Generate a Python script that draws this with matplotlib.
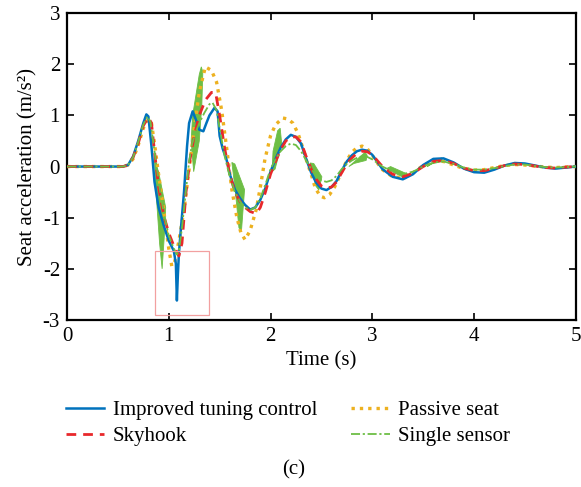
import matplotlib
matplotlib.use("Agg")
import matplotlib.pyplot as plt
from matplotlib.patches import Rectangle

plt.rcParams['font.family'] = ['Liberation Serif', 'DejaVu Serif']
plt.rcParams['axes.unicode_minus'] = False

# Improved tuning control (time, acceleration)
t_imp = [0.0, 0.55, 0.6, 0.65, 0.7, 0.75, 0.78, 0.8, 0.83, 0.86, 0.9, 0.95, 1.0, 1.05,
         1.07, 1.08, 1.09, 1.1, 1.12, 1.15, 1.18, 1.2, 1.235, 1.27, 1.3, 1.34, 1.37, 1.4,
         1.45, 1.48, 1.5, 1.53, 1.57, 1.6, 1.65, 1.7, 1.75, 1.8, 1.85, 1.9, 1.95, 2.0,
         2.05, 2.1, 2.15, 2.2, 2.25, 2.3, 2.35, 2.4, 2.45, 2.5, 2.55, 2.6, 2.65, 2.7,
         2.75, 2.8, 2.85, 2.9, 2.95, 3.0, 3.1, 3.2, 3.3, 3.4, 3.5, 3.6, 3.7, 3.8, 3.9,
         4.0, 4.1, 4.2, 4.3, 4.4, 4.5, 4.6, 4.7, 4.8, 4.9, 5.0]
a_imp = [0.0, 0.0, 0.03, 0.2, 0.5, 0.85, 1.02, 0.98, 0.4, -0.3, -0.8, -1.15, -1.45, -1.65,
         -1.9, -2.62, -2.1, -1.7, -1.2, -0.5, 0.4, 0.85, 1.08, 0.9, 0.72, 0.69, 0.85, 1.0,
         1.15, 1.08, 0.6, 0.35, 0.12, -0.15, -0.45, -0.62, -0.75, -0.84, -0.8, -0.65, -0.42, -0.1,
         0.15, 0.37, 0.53, 0.62, 0.58, 0.45, 0.15, -0.12, -0.32, -0.43, -0.46, -0.4, -0.28, -0.08,
         0.1, 0.22, 0.3, 0.33, 0.31, 0.23, -0.05, -0.2, -0.25, -0.15, 0.03, 0.15, 0.16, 0.08, -0.04,
         -0.11, -0.12, -0.06, 0.02, 0.07, 0.06, 0.02, -0.02, -0.04, -0.02, 0.0]

# Skyhook
t_sky = [0.0, 0.55, 0.6, 0.65, 0.7, 0.75, 0.8, 0.83, 0.86, 0.9, 0.95, 1.0, 1.05, 1.1,
         1.13, 1.17, 1.21, 1.25, 1.3, 1.36, 1.42, 1.46, 1.5, 1.55, 1.6, 1.65, 1.7, 1.75,
         1.8, 1.86, 1.9, 1.95, 2.0, 2.05, 2.1, 2.15, 2.2, 2.25, 2.3, 2.35, 2.4, 2.45, 2.5,
         2.55, 2.6, 2.65, 2.7, 2.75, 2.8, 2.85, 2.9, 2.95, 3.0, 3.1, 3.2, 3.3, 3.4, 3.5,
         3.6, 3.7, 3.8, 3.9, 4.0, 4.1, 4.2, 4.3, 4.4, 4.5, 4.6, 4.7, 4.8, 4.9, 5.0]
a_sky = [0.0, 0.0, 0.03, 0.18, 0.45, 0.8, 0.96, 0.85, 0.3, -0.4, -0.95, -1.3, -1.55, -1.75,
         -1.5, -0.5, 0.15, 0.6, 1.0, 1.3, 1.45, 1.45, 1.0, 0.35, -0.15, -0.5, -0.68, -0.8,
         -0.88, -0.92, -0.8, -0.5, -0.15, 0.1, 0.33, 0.5, 0.58, 0.58, 0.48, 0.2, -0.05, -0.25, -0.38,
         -0.42, -0.4, -0.3, -0.12, 0.05, 0.17, 0.26, 0.3, 0.29, 0.23, 0.0, -0.15, -0.2, -0.13, 0.0,
         0.1, 0.12, 0.06, -0.03, -0.08, -0.08, -0.04, 0.02, 0.05, 0.04, 0.01, -0.02, -0.03, -0.01, 0.0]

# Passive seat
t_pas = [0.0, 0.55, 0.6, 0.65, 0.7, 0.75, 0.8, 0.83, 0.86, 0.9, 0.95, 1.0, 1.03, 1.06,
         1.1, 1.15, 1.2, 1.25, 1.3, 1.36, 1.42, 1.47, 1.52, 1.57, 1.62, 1.67, 1.71, 1.75,
         1.8, 1.86, 1.9, 1.945, 2.0, 2.05, 2.12, 2.17, 2.22, 2.27, 2.32, 2.36, 2.4, 2.44,
         2.49, 2.53, 2.58, 2.63, 2.7, 2.75, 2.8, 2.85, 2.9, 2.95, 3.0, 3.05, 3.1, 3.2, 3.3,
         3.4, 3.5, 3.6, 3.7, 3.8, 3.9, 4.0, 4.1, 4.2, 4.3, 4.4, 4.5, 4.6, 4.7, 4.8, 4.9, 5.0]
a_pas = [0.0, 0.0, 0.03, 0.15, 0.42, 0.75, 0.93, 0.85, 0.45, -0.15, -0.85, -1.6, -1.95, -1.85,
         -1.45, -0.85, -0.05, 0.75, 1.45, 1.95, 1.88, 1.65, 1.1, 0.35, -0.45, -1.0, -1.3, -1.43,
         -1.25, -0.84, -0.4, 0.14, 0.6, 0.82, 0.95, 0.93, 0.85, 0.65, 0.35, 0.08, -0.15, -0.42,
         -0.58, -0.61, -0.55, -0.4, -0.1, 0.12, 0.28, 0.37, 0.4, 0.35, 0.22, 0.07, -0.06, -0.2, -0.22,
         -0.12, 0.02, 0.11, 0.1, 0.03, -0.04, -0.07, -0.06, -0.02, 0.02, 0.04, 0.03, 0.01, -0.01, -0.02, -0.01, 0.0]

# Single sensor (mean trace)
t_sgl = [0.0, 0.55, 0.6, 0.65, 0.7, 0.75, 0.79, 0.82, 0.85, 0.88, 0.92, 0.95, 1.0, 1.05,
         1.08, 1.1, 1.13, 1.17, 1.2, 1.23, 1.27, 1.3, 1.35, 1.4, 1.43, 1.47, 1.5, 1.55, 1.6,
         1.65, 1.7, 1.75, 1.8, 1.85, 1.9, 1.95, 2.0, 2.05, 2.1, 2.15, 2.2, 2.25, 2.3, 2.35,
         2.4, 2.45, 2.5, 2.55, 2.6, 2.65, 2.7, 2.75, 2.8, 2.85, 2.9, 2.95, 3.0, 3.1, 3.2, 3.3,
         3.4, 3.5, 3.6, 3.7, 3.8, 3.9, 4.0, 4.1, 4.2, 4.3, 4.4, 4.5, 4.6, 4.7, 4.8, 4.9, 5.0]
a_sgl = [0.0, 0.0, 0.03, 0.18, 0.48, 0.82, 0.98, 0.88, 0.45, 0.0, -0.55, -0.9, -1.35, -1.6,
         -1.72, -1.65, -1.2, -0.45, 0.1, 0.45, 0.7, 0.85, 1.05, 1.22, 1.25, 1.1, 0.75, 0.2, -0.2,
         -0.5, -0.68, -0.8, -0.85, -0.8, -0.62, -0.35, -0.05, 0.15, 0.3, 0.4, 0.45, 0.42, 0.3, 0.12,
         -0.05, -0.18, -0.27, -0.3, -0.27, -0.18, -0.05, 0.05, 0.12, 0.17, 0.2, 0.19, 0.14, 0.0, -0.1, -0.15,
         -0.1, 0.0, 0.08, 0.1, 0.05, -0.02, -0.06, -0.06, -0.03, 0.01, 0.04, 0.04, 0.01, -0.01, -0.02, -0.01, 0.0]

# Single sensor chattering bursts (outline of each burst)
burst_t = [
    [0.86, 0.90, 0.97, 0.955, 0.935, 0.91, 0.875],
    [1.245, 1.22, 1.235, 1.30, 1.32, 1.335, 1.325, 1.30],
    [1.62, 1.65, 1.745, 1.715, 1.69, 1.65],
    [2.015, 2.045, 2.11, 2.095, 2.07, 2.025],
    [2.39, 2.425, 2.505, 2.475, 2.445],
    [2.77, 2.93, 2.95, 2.94, 2.82],
    [3.14, 3.33, 3.35, 3.18],
    [3.54, 3.68, 3.69, 3.58],
]
burst_a = [
    [0.12, -0.1, -0.8, -1.4, -2.0, -1.5, -0.5],
    [-0.1, 0.5, 1.0, 1.8, 1.95, 1.85, 1.2, 0.5],
    [0.08, 0.05, -0.45, -1.25, -1.2, -0.4],
    [-0.1, -0.05, 0.45, 0.75, 0.7, 0.3],
    [0.07, 0.06, -0.2, -0.46, -0.38],
    [0.0, 0.28, 0.22, 0.12, 0.06],
    [-0.04, -0.24, -0.15, 0.0],
    [0.0, 0.17, 0.1, 0.05],
]

# highlighted region (t0, t1, a_low, a_high)
box = (0.864, 1.395, -2.91, -1.66)

c_imp, c_sky, c_pas, c_sgl = '#0072BD', '#E8282B', '#EDB120', '#6DBE45'

fig = plt.figure(figsize=(5.81, 4.87), dpi=100)
ax = fig.add_axes([0.1153, 0.343, 0.8757, 0.630])

for bt, ba in zip(burst_t, burst_a):
    ax.fill(bt, ba, color=c_sgl, lw=0.6, zorder=2)

ax.plot(t_pas, a_pas, color=c_pas, lw=2.4, ls=(0, (1, 1.5)), label='Passive seat', zorder=3)
ax.plot(t_imp, a_imp, color=c_imp, lw=1.8, label='Improved tuning control', zorder=4)
ax.plot(t_sky, a_sky, color=c_sky, lw=2.0, ls=(0, (3.5, 2.5)), label='Skyhook', zorder=5)
ax.plot(t_sgl, a_sgl, color=c_sgl, lw=1.3, ls=(0, (5, 1.5, 1.2, 1.5)), label='Single sensor', zorder=6)

ax.add_patch(Rectangle((box[0], box[2]), box[1] - box[0], box[3] - box[2],
                       fill=False, ec='#F2A0A0', lw=0.9, zorder=7))

ax.set_xlim(0, 5)
ax.set_ylim(-3, 3)
ax.set_xticks([0, 1, 2, 3, 4, 5])
ax.set_yticks([-3, -2, -1, 0, 1, 2, 3])
ax.tick_params(direction='in', top=True, right=True, length=5, width=1.2, labelsize=15, pad=5)
for s in ax.spines.values():
    s.set_linewidth(1.6)
ax.set_xlabel('Time (s)', fontsize=15, labelpad=4)
ax.set_ylabel('Seat acceleration (m/s²)', fontsize=15, labelpad=4)

handles, labels = ax.get_legend_handles_labels()
order = [1, 2, 0, 3]
fig.legend([handles[i] for i in order], [labels[i] for i in order],
           loc='upper left', bbox_to_anchor=(0.113, 0.177), ncol=2, frameon=False,
           fontsize=15, handlelength=1.85, handletextpad=0.4, columnspacing=1.65,
           labelspacing=0.3, borderpad=0, borderaxespad=0)

fig.text(0.505, 0.036, '(c)', ha='center', va='center', fontsize=15)

fig.savefig('out.png', dpi=100)
